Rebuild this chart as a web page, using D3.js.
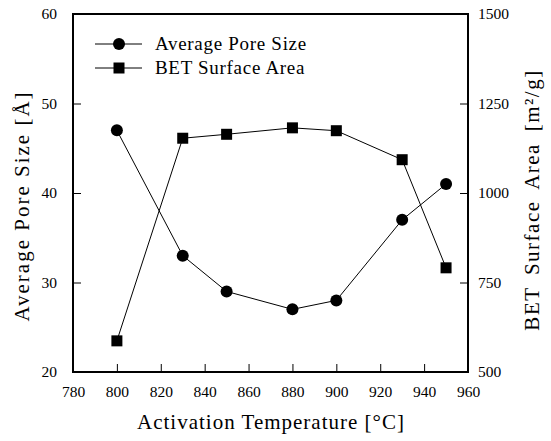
<!DOCTYPE html>
<html>
<head>
    <meta charset="utf-8"/>
    <script src="https://d3js.org/d3.v7.min.js"></script>
    <style>
        body { margin: 0; background: #fff; }
        text { font-family: "Liberation Serif", "Times New Roman", serif; fill: #000; }
    </style>
</head>
<body>
<div id="chart"></div>
<script>
    // data
    var temps = [800, 830, 850, 880, 900, 930, 950];
    var poreSize = [47, 33, 29, 27, 28, 37, 41];
    var betArea = [587, 1153, 1164, 1182, 1174, 1093, 791];

    var xTicks = [780, 800, 820, 840, 860, 880, 900, 920, 940, 960];
    var leftTicks = [20, 30, 40, 50, 60];
    var rightTicks = [500, 750, 1000, 1250, 1500];

    var W = 551, H = 441;
    var plotL = 73, plotR = 468, plotT = 14, plotB = 372;

    var svg = d3.select("#chart").append("svg")
        .attr("width", W)
        .attr("height", H);

    var x = d3.scaleLinear().domain([780, 960]).range([plotL, plotR]);
    var yL = d3.scaleLinear().domain([20, 60]).range([plotB, plotT]);
    var yR = d3.scaleLinear().domain([500, 1500]).range([plotB, plotT]);

    // bottom axis (ticks pointing inward)
    var gx = svg.append("g")
        .attr("transform", "translate(0," + plotB + ")")
        .call(d3.axisBottom(x).tickValues(xTicks).tickSizeInner(-8).tickSizeOuter(0).tickPadding(14));
    gx.selectAll(".tick line").filter(function(d) { return d == 780 || d == 960; }).remove();

    var gl = svg.append("g")
        .attr("transform", "translate(" + plotL + ",0)")
        .call(d3.axisLeft(yL).tickValues(leftTicks).tickSizeInner(-8).tickSizeOuter(0).tickPadding(16));
    gl.selectAll(".tick line").filter(function(d) { return d == 20 || d == 60; }).remove();

    var gr = svg.append("g")
        .attr("transform", "translate(" + plotR + ",0)")
        .call(d3.axisRight(yR).tickValues(rightTicks).tickFormat(d3.format("d"))
            .tickSizeInner(-8).tickSizeOuter(0).tickPadding(10));
    gr.selectAll(".tick line").filter(function(d) { return d == 500 || d == 1500; }).remove();

    svg.selectAll(".domain").remove();
    svg.selectAll(".tick text")
        .style("font-size", "15.5px")
        .style("font-family", "Liberation Serif, serif");
    svg.selectAll(".tick line").attr("stroke", "#000").attr("stroke-width", 1);

    // frame
    svg.append("rect")
        .attr("x", plotL).attr("y", plotT)
        .attr("width", plotR - plotL).attr("height", plotB - plotT)
        .attr("fill", "none")
        .attr("stroke", "#000")
        .attr("stroke-width", 2);

    // series
    var pts1 = temps.map(function(t, i) { return [x(t), yL(poreSize[i])]; });
    var pts2 = temps.map(function(t, i) { return [x(t), yR(betArea[i])]; });

    var line = d3.line();
    svg.append("path").attr("d", line(pts1)).attr("fill", "none").attr("stroke", "#000").attr("stroke-width", 1);
    svg.append("path").attr("d", line(pts2)).attr("fill", "none").attr("stroke", "#000").attr("stroke-width", 1);

    svg.selectAll(".dot")
        .data(pts1)
        .enter().append("circle")
        .attr("cx", function(d) { return d[0]; })
        .attr("cy", function(d) { return d[1]; })
        .attr("r", 6)
        .attr("fill", "#000");

    svg.selectAll(".sq")
        .data(pts2)
        .enter().append("rect")
        .attr("x", function(d) { return d[0] - 5.5; })
        .attr("y", function(d) { return d[1] - 5.5; })
        .attr("width", 11)
        .attr("height", 11)
        .attr("fill", "#000");

    // legend
    var legend = svg.append("g");
    legend.append("line").attr("x1", 95).attr("x2", 142).attr("y1", 44).attr("y2", 44).attr("stroke", "#000");
    legend.append("circle").attr("cx", 119).attr("cy", 44).attr("r", 6).attr("fill", "#000");
    legend.append("text").attr("x", 155).attr("y", 50).style("font-size", "19px").style("letter-spacing", "0.7px").text("Average Pore Size");
    legend.append("line").attr("x1", 95).attr("x2", 142).attr("y1", 68).attr("y2", 68).attr("stroke", "#000");
    legend.append("rect").attr("x", 113.5).attr("y", 62.5).attr("width", 11).attr("height", 11).attr("fill", "#000");
    legend.append("text").attr("x", 155).attr("y", 74).style("font-size", "19px").style("letter-spacing", "0.7px").text("BET Surface Area");

    // axis titles
    svg.append("text")
        .attr("x", 271).attr("y", 429)
        .attr("text-anchor", "middle")
        .style("font-size", "21px")
        .style("letter-spacing", "1px")
        .text("Activation Temperature [°C]");

    svg.append("text")
        .attr("transform", "translate(29,206) rotate(-90)")
        .attr("text-anchor", "middle")
        .style("font-size", "21px")
        .style("letter-spacing", "2px")
        .text("Average Pore Size [Å]");

    svg.append("text")
        .attr("transform", "translate(539,200) rotate(-90)")
        .attr("text-anchor", "middle")
        .style("font-size", "21px")
        .style("letter-spacing", "1.5px")
        .style("word-spacing", "5px")
        .text("BET Surface Area [m²/g]");
</script>
</body>
</html>
